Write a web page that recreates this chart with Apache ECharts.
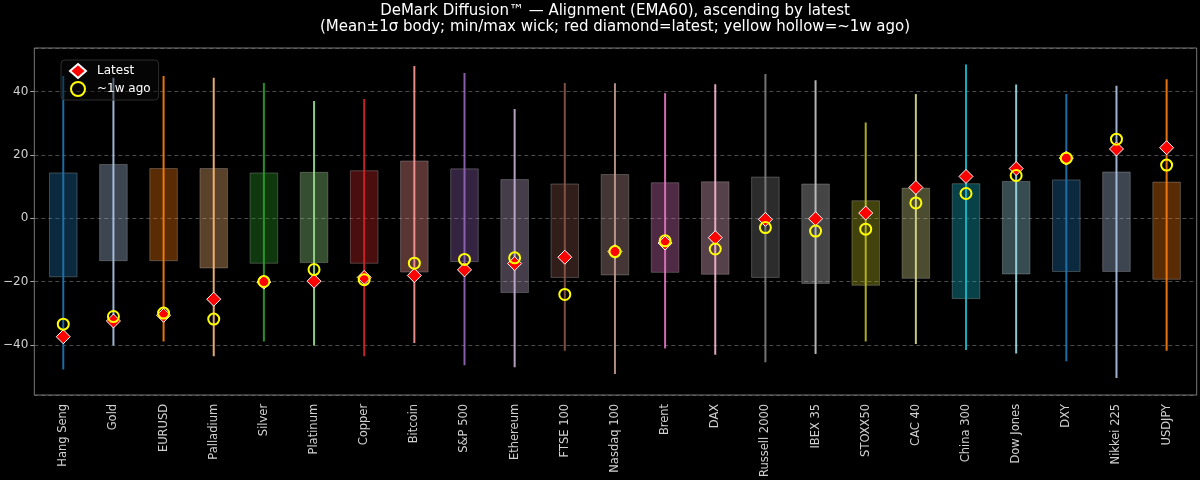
<!DOCTYPE html>
<html>
<head>
<meta charset="utf-8">
<script src="https://cdn.jsdelivr.net/npm/echarts@6/dist/echarts.min.js"></script>
<style>
html,body{margin:0;padding:0;background:#000;}
#c{width:1200px;height:480px;}
</style>
</head>
<body>
<div id="c"></div>
<script>
const categories = ['Hang Seng','Gold','EURUSD','Palladium','Silver','Platinum','Copper','Bitcoin','S&P 500','Ethereum','FTSE 100','Nasdaq 100','Brent','DAX','Russell 2000','IBEX 35','STOXX50','CAC 40','China 300','Dow Jones','DXY','Nikkei 225','USDJPY'];
const latest   = [-37.7,-32.7,-30.9,-25.8,-20.4,-20.1,-18.9,-18.3,-16.5,-14.5,-12.5,-10.7,-8.0,-6.3,-0.5,-0.3,1.5,9.6,13.1,15.6,18.9,21.8,22.2];
const weekAgo  = [-33.7,-31.3,-30.2,-32.1,-20.2,-16.4,-19.6,-14.4,-13.2,-12.7,-24.3,-10.7,-7.3,-9.9,-3.1,-4.2,-3.6,4.7,7.7,13.4,18.9,24.9,16.7];
const bodyHigh = [14.2,16.9,15.6,15.6,14.2,14.4,14.9,18.0,15.5,12.1,10.7,13.7,11.1,11.4,12.9,10.7,5.4,9.4,10.8,11.5,12.0,14.5,11.3];
const bodyLow  = [-18.7,-13.6,-13.6,-15.9,-14.4,-14.2,-14.4,-17.2,-13.9,-23.7,-18.9,-18.1,-17.3,-17.9,-18.9,-20.8,-21.4,-19.2,-25.6,-17.8,-17.0,-17.0,-19.5];
const wickHigh = [44.9,44.4,44.9,44.4,42.7,37.0,37.6,48.1,45.9,34.5,42.7,42.6,39.5,42.3,45.6,43.6,30.2,39.2,48.6,42.2,39.2,41.8,43.9];
const wickLow  = [-48.1,-40.5,-39.2,-43.9,-39.2,-40.5,-43.9,-39.7,-46.7,-47.4,-42.1,-49.5,-41.4,-43.4,-45.8,-43.2,-39.2,-40.0,-41.9,-43.0,-45.5,-50.8,-42.1];
const titleLines = ['DeMark Diffusion™ — Alignment (EMA60), ascending by latest',
                    '(Mean±1σ body; min/max wick; red diamond=latest; yellow hollow=~1w ago)'];

const palette = ['#1f77b4','#aec7e8','#ff7f0e','#ffbb78','#2ca02c','#98df8a','#d62728','#ff9896','#9467bd','#c5b0d5','#8c564b','#c49c94','#e377c2','#f7b6d2','#7f7f7f','#c7c7c7','#bcbd22','#dbdb8d','#17becf','#9edae5'];
const Y_MIN = -55.8, Y_MAX = 53.8;
const FONT = 'DejaVu Sans';

const bodyData = categories.map((c,i)=>[i, bodyLow[i], bodyHigh[i]]);
const wickData = categories.map((c,i)=>[i, wickLow[i], wickHigh[i]]);

const chart = echarts.init(document.getElementById('c'), null, {renderer:'canvas'});
chart.setOption({
  backgroundColor:'#000',
  animation:false,
  title:[
    {text:titleLines[0], left:615, textAlign:'center', top:4, padding:0,
     textStyle:{color:'#fff', fontFamily:FONT, fontSize:15, fontWeight:'normal'}},
    {text:titleLines[1], left:615, textAlign:'center', top:20, padding:0,
     textStyle:{color:'#fff', fontFamily:FONT, fontSize:15, fontWeight:'normal'}}
  ],
  legend:{
    orient:'vertical', left:61, top:60,
    backgroundColor:'rgba(10,10,10,0.45)', borderColor:'#2e2e2e', borderWidth:1, borderRadius:4,
    padding:[3,8,3,8], itemGap:2, itemWidth:16, itemHeight:14,
    textStyle:{color:'#fff', fontFamily:FONT, fontSize:12, padding:[0,0,0,6]},
    data:['Latest','~1w ago'],
    z:10
  },
  grid:[
    {left:38.2, right:8.3, top:48, bottom:85},
    {left:33, right:3.3, top:48, bottom:85, show:true, borderColor:'#777', borderWidth:1, backgroundColor:'transparent', z:1}
  ],
  xAxis:[
    {type:'category', gridIndex:0, data:categories, boundaryGap:true,
     axisLine:{show:false}, axisTick:{show:false}, splitLine:{show:false},
     axisLabel:{rotate:90, interval:0, color:'#d0d0d0', fontFamily:FONT, fontSize:11.5, margin:10}},
    {type:'value', gridIndex:1, min:0, max:1, show:false}
  ],
  yAxis:[
    {type:'value', gridIndex:0, min:Y_MIN, max:Y_MAX, show:false},
    {type:'value', gridIndex:1, min:Y_MIN, max:Y_MAX,
     axisLine:{show:false},
     axisTick:{show:true, length:4, lineStyle:{color:'#aaa'}},
     axisLabel:{color:'#d0d0d0', fontFamily:FONT, fontSize:12, margin:6, showMinLabel:false, showMaxLabel:false,
       formatter:v=> (Math.abs(v - Math.round(v))>1e-6) ? '' : String(Math.round(v)).replace('-','\u2212')},
     splitLine:{show:true, lineStyle:{color:'#4a4a4a', type:[4,3], width:1}}}
  ],
  series:[
    {
      type:'custom', name:'body', xAxisIndex:0, yAxisIndex:0, z:2,
      data:bodyData,
      encode:{x:0, y:[1,2]},
      renderItem:(params, api)=>{
        const i = api.value(0);
        const lo = api.coord([i, api.value(1)]);
        const hi = api.coord([i, api.value(2)]);
        const w = api.size([1,0])[0]*0.55;
        const col = palette[i % palette.length];
        return {type:'rect', shape:{x:lo[0]-w/2, y:hi[1], width:w, height:lo[1]-hi[1]},
          style:{fill:echarts.color.modifyAlpha(col,0.35), stroke:'rgba(200,200,200,0.3)', lineWidth:1}};
      }
    },
    {
      type:'custom', name:'wick', xAxisIndex:0, yAxisIndex:0, z:3,
      data:wickData,
      encode:{x:0, y:[1,2]},
      renderItem:(params, api)=>{
        const i = api.value(0);
        const lo = api.coord([i, api.value(1)]);
        const hi = api.coord([i, api.value(2)]);
        const col = palette[i % palette.length];
        return {type:'line', shape:{x1:lo[0], y1:lo[1], x2:hi[0], y2:hi[1]},
          style:{stroke:col, lineWidth:2, opacity:0.9}};
      }
    },
    {
      type:'scatter', name:'Latest', xAxisIndex:0, yAxisIndex:0, z:4,
      data:latest, symbol:'diamond', symbolSize:14,
      itemStyle:{color:'#ff0000', borderColor:'#ffffff', borderWidth:1, opacity:1}
    },
    {
      type:'scatter', name:'~1w ago', xAxisIndex:0, yAxisIndex:0, z:5,
      data:weekAgo, symbol:'circle', symbolSize:11,
      itemStyle:{color:'rgba(0,0,0,0)', borderColor:'#ffff00', borderWidth:2, opacity:1}
    }
  ]
});
</script>
</body>
</html>
